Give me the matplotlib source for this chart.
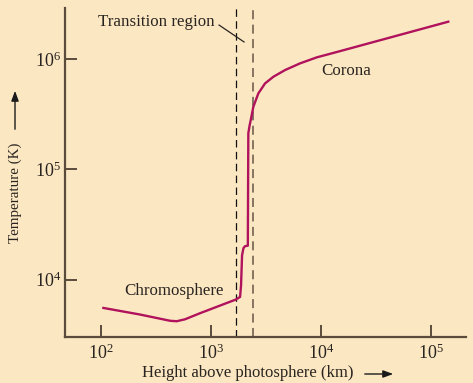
import numpy as np
import matplotlib
matplotlib.use("Agg")
import matplotlib.pyplot as plt
from matplotlib.patches import FancyArrowPatch

# temperature profile of the solar atmosphere
height_km = [105, 226, 424, 487, 580, 794, 1679, 1836, 1874, 1914, 1972,
             2036, 2160, 2175, 2183, 2240, 2310, 2424, 2692, 3097, 3684, 4710,
             6442, 9140, 14360, 143500]
temp_K = [5520, 4810, 4220, 4180, 4355, 4944, 6580, 6950, 8870, 16600, 19300,
          20100, 20300, 1.0e5, 2.14e5, 2.5e5, 2.90e5, 3.71e5, 4.91e5, 6.05e5,
          6.95e5, 8.0e5, 9.2e5, 1.043e6, 1.177e6, 2.2e6]

transition_edges = [1676, 2395]
x_ticks = [1e2, 1e3, 1e4, 1e5]
x_ticklabels = ["$10^{2}$", "$10^{3}$", "$10^{4}$", "$10^{5}$"]
y_ticks = [1e4, 1e5, 1e6]
y_ticklabels = ["$10^{4}$", "$10^{5}$", "$10^{6}$"]

bg = "#fbe8c3"
axis_col = "#5b4b3b"
curve_col = "#b0125c"
ink = "#2a2420"

plt.rcParams["font.family"] = ["Liberation Serif", "DejaVu Serif"]
plt.rcParams["mathtext.fontset"] = "custom"
plt.rcParams["mathtext.rm"] = "Liberation Serif"
plt.rcParams["mathtext.it"] = "Liberation Serif:italic"

W, H = 473, 383
fig = plt.figure(figsize=(W / 100, H / 100), dpi=100, facecolor=bg)
# axes box in pixels: left 65, right 466, top 8, bottom 337
ax = fig.add_axes([65 / W, (H - 337) / H, (466 - 65) / W, (337 - 8) / H])
ax.set_facecolor(bg)
ax.set_xscale("log")
ax.set_yscale("log")
ax.set_xlim(47, 208000)
ax.set_ylim(3006, 2.93e6)

for s in ["top", "right"]:
    ax.spines[s].set_visible(False)
for s in ["left", "bottom"]:
    ax.spines[s].set_color(axis_col)
    ax.spines[s].set_linewidth(1.6)

ax.xaxis.set_minor_locator(matplotlib.ticker.NullLocator())
ax.yaxis.set_minor_locator(matplotlib.ticker.NullLocator())
ax.set_xticks(x_ticks)
ax.set_xticklabels(x_ticklabels)
ax.set_yticks(y_ticks)
ax.set_yticklabels(y_ticklabels)
ax.tick_params(direction="in", length=8.5, width=1.4, color=axis_col,
               labelsize=13, labelcolor=ink)
ax.tick_params(axis="x", pad=5)
ax.tick_params(axis="y", pad=3)

# transition region boundaries
ax.axvline(transition_edges[0], color="#111111", lw=0.9, ls=(0, (6, 3.5)))
ax.axvline(transition_edges[1], color="#7d6b5a", lw=1.3, ls=(0, (5, 3)))

ax.plot(height_km, temp_K, color=curve_col, lw=1.7, solid_joinstyle="round")

ax.text(316, 2.18e6, "Transition region", ha="center", va="center",
        fontsize=12.2, color=ink)
ax.plot([1183, 1995], [2.05e6, 1.44e6], color=ink, lw=0.9)
ax.text(16800, 7.87e5, "Corona", ha="center", va="center",
        fontsize=12.2, color=ink)
ax.text(163, 7870, "Chromosphere", ha="left", va="center",
        fontsize=12.2, color=ink)

# axis labels with arrows
fig.text(248 / W, (H - 373) / H, "Height above photosphere (km)",
         ha="center", va="center", fontsize=12, color=ink)
fig.text(15 / W, (H - 193) / H, "Temperature (K)", rotation=90,
         ha="center", va="center", fontsize=10.8, color=ink)
fig.patches.append(FancyArrowPatch((362 / W, (H - 374) / H), (396 / W, (H - 374) / H),
                                   transform=fig.transFigure, arrowstyle="-|>,head_length=6,head_width=2.2",
                                   color="#1a1a1a", lw=1.0))
fig.patches.append(FancyArrowPatch((15 / W, (H - 132) / H), (15 / W, (H - 88) / H),
                                   transform=fig.transFigure, arrowstyle="-|>,head_length=6,head_width=2.2",
                                   color="#1a1a1a", lw=1.0))

fig.savefig("out.png", dpi=100, facecolor=bg)
